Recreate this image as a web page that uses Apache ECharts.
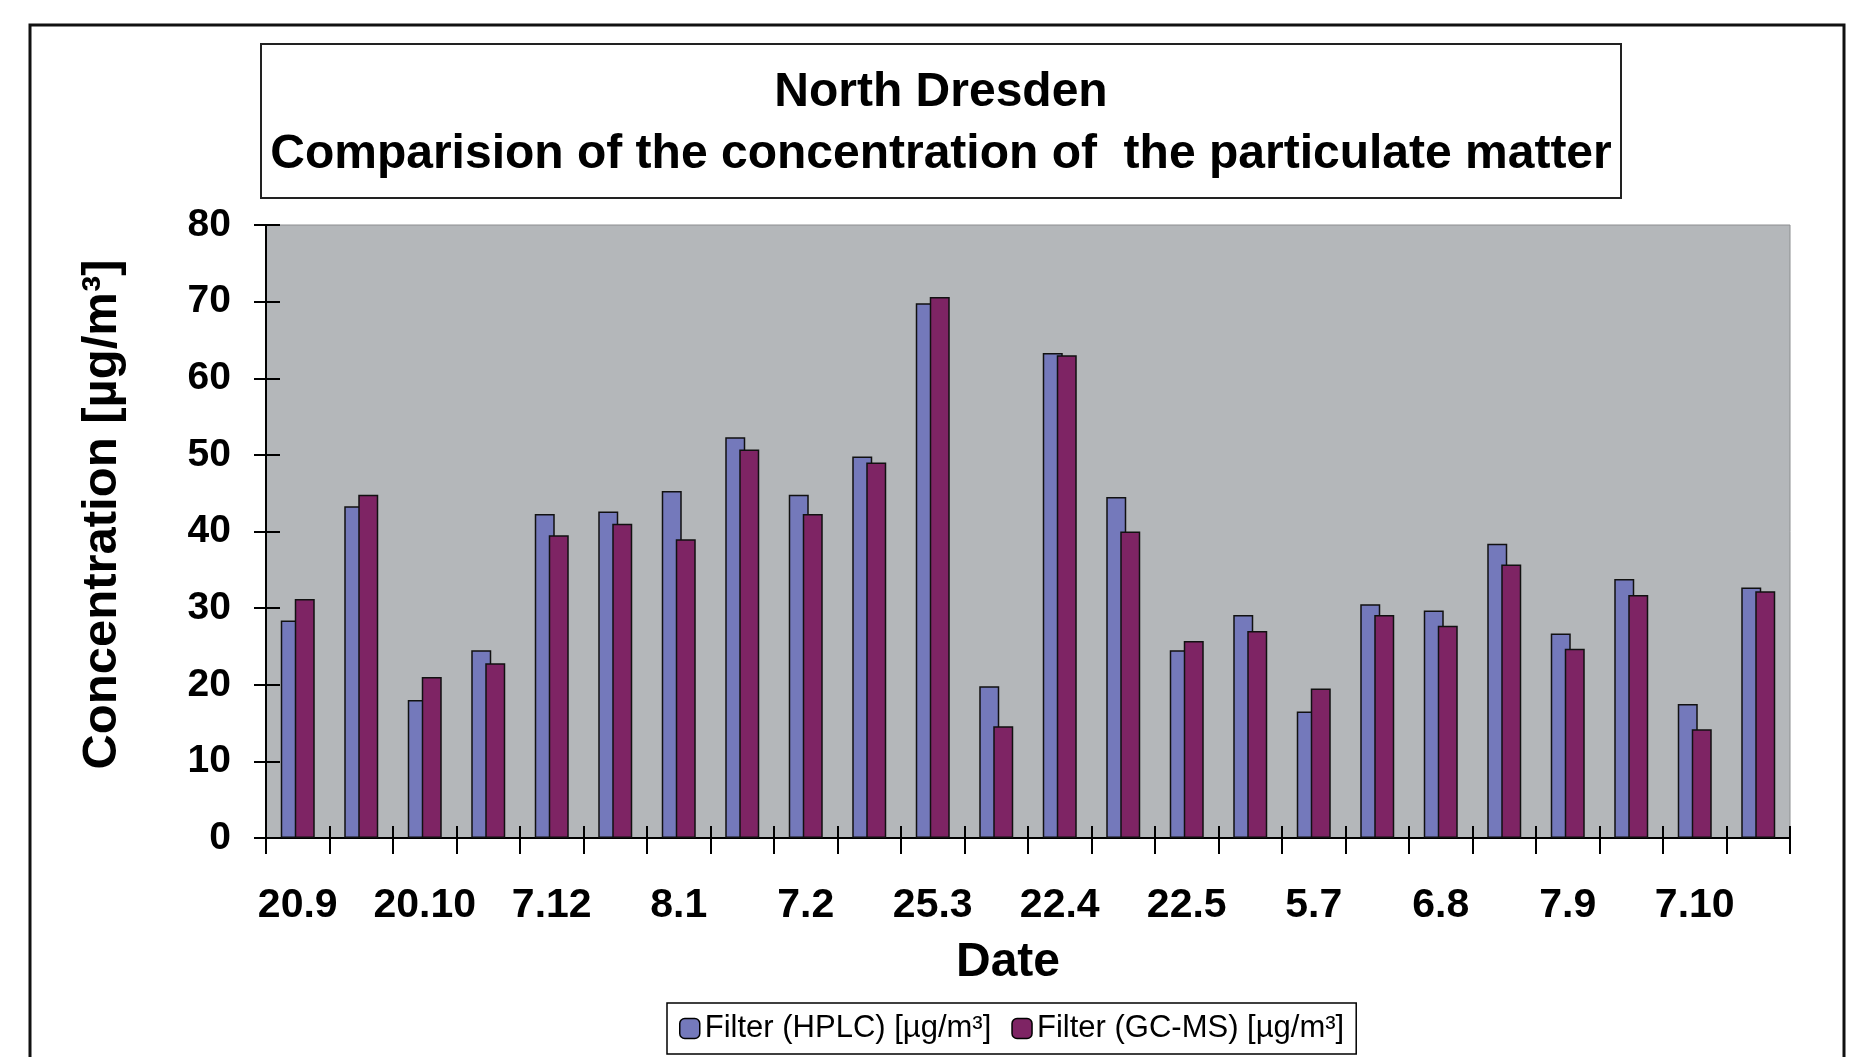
<!DOCTYPE html>
<html>
<head>
<meta charset="utf-8">
<script src="https://cdn.jsdelivr.net/npm/echarts@6/dist/echarts.min.js"></script>
<style>
html,body{margin:0;padding:0;background:#fff;}
#chart{width:1862px;height:1057px;}
</style>
</head>
<body>
<div id="chart"></div>
<script>
// ---- data ----
const titleLines = ['North Dresden', 'Comparision of the concentration of  the particulate matter'];
const categories = ['20.9','', '20.10','', '7.12','', '8.1','', '7.2','', '25.3','', '22.4','', '22.5','', '5.7','', '6.8','', '7.9','', '7.10',''];
const seriesNames = ['Filter (HPLC) [µg/m³]', 'Filter (GC-MS) [µg/m³]'];
const hplc = [28.4, 43.3, 18.0, 24.5, 42.3, 42.6, 45.3, 52.3, 44.8, 49.8, 69.8, 19.8, 63.3, 44.5, 24.5, 29.1, 16.5, 30.5, 29.7, 38.4, 26.7, 33.8, 17.5, 32.7];
const gcms = [31.2, 44.8, 21.0, 22.8, 39.5, 41.0, 39.0, 50.7, 42.3, 49.0, 70.6, 14.6, 63.0, 40.0, 25.7, 27.0, 19.5, 29.1, 27.7, 35.7, 24.7, 31.7, 14.2, 32.2];
const yMin = 0, yMax = 80, yStep = 10;
const xAxisTitle = 'Date';
const yAxisTitle = 'Concentration [µg/m³]';

const FONT = '"Liberation Sans", Arial, sans-serif';
const chart = echarts.init(document.getElementById('chart'), null, {renderer: 'canvas'});

const option = {
  backgroundColor: '#ffffff',
  animation: false,
  textStyle: {fontFamily: FONT, color: '#000'},
  graphic: [
    {type: 'rect', silent: true, z: 0, shape: {x: 30, y: 25, width: 1814, height: 1080},
     style: {fill: 'none', stroke: '#111', lineWidth: 3}},
    {type: 'rect', silent: true, z: 1, shape: {x: 261, y: 44, width: 1360, height: 154},
     style: {fill: '#fff', stroke: '#222', lineWidth: 2}},
    {type: 'text', silent: true, z: 2, x: 941, y: 93,
     style: {text: titleLines[0], fontSize: 48, fontWeight: 'bold', fontFamily: FONT, fill: '#000', align: 'center', verticalAlign: 'middle'}},
    {type: 'text', silent: true, z: 2, x: 941, y: 155,
     style: {text: titleLines[1], fontSize: 48, fontWeight: 'bold', fontFamily: FONT, fill: '#000', align: 'center', verticalAlign: 'middle'}}
  ],
  grid: {
    left: 266, right: 72, top: 225, bottom: 219,
    show: true, backgroundColor: '#b4b7ba', borderColor: '#8c8e90', borderWidth: 1,
    containLabel: false
  },
  legend: {
    left: 667, top: 1003,
    orient: 'horizontal',
    selectedMode: false,
    itemWidth: 20, itemHeight: 20, itemGap: 20,
    padding: [10, 12, 10, 12],
    borderColor: '#000', borderWidth: 1.5, backgroundColor: '#fff',
    textStyle: {fontSize: 31, fontFamily: FONT, color: '#000'},
    itemStyle: {borderColor: '#000', borderWidth: 1.5},
    data: seriesNames
  },
  xAxis: [
    {
      type: 'category', data: categories, position: 'bottom',
      axisLine: {show: true, onZero: false, lineStyle: {color: '#000', width: 2}},
      axisTick: {show: true, interval: 0, length: 16, lineStyle: {color: '#000', width: 2}},
      axisLabel: {interval: 0, margin: 47, fontSize: 41, fontWeight: 'bold', color: '#000', fontFamily: FONT},
      splitLine: {show: false},
      name: xAxisTitle, nameLocation: 'middle', nameGap: 101,
      nameTextStyle: {fontSize: 48, fontWeight: 'bold', color: '#000', fontFamily: FONT, padding: [0, 40, 0, 0]}
    },
    {
      type: 'category', data: categories, position: 'bottom',
      axisLine: {show: false, onZero: false},
      axisTick: {show: true, inside: true, interval: 0, length: 12, lineStyle: {color: '#000', width: 2}},
      axisLabel: {show: false},
      splitLine: {show: false}
    }
  ],
  yAxis: [
    {
      type: 'value', min: yMin, max: yMax, interval: yStep, position: 'left',
      axisLine: {show: true, lineStyle: {color: '#000', width: 2}},
      axisTick: {show: true, length: 12, lineStyle: {color: '#000', width: 2}},
      axisLabel: {margin: 35, fontSize: 39, fontWeight: 'bold', color: '#000', fontFamily: FONT},
      splitLine: {show: false},
      name: yAxisTitle, nameLocation: 'middle', nameGap: 139, nameRotate: 90,
      nameTextStyle: {fontSize: 49, fontWeight: 'bold', color: '#000', fontFamily: FONT, padding: [0, 0, 0, 34]}
    },
    {
      type: 'value', min: yMin, max: yMax, interval: yStep, position: 'left',
      axisLine: {show: false},
      axisTick: {show: true, inside: true, length: 14, lineStyle: {color: '#000', width: 2}},
      axisLabel: {show: false},
      splitLine: {show: false}
    }
  ],
  series: [
    {
      name: seriesNames[0], type: 'bar', xAxisIndex: 0, yAxisIndex: 0,
      data: hplc, barWidth: 20, barGap: '-30%',
      itemStyle: {color: '#7479bb', borderColor: '#111', borderWidth: 1.5}
    },
    {
      name: seriesNames[1], type: 'bar', xAxisIndex: 0, yAxisIndex: 0,
      data: gcms, barWidth: 20, barGap: '-30%',
      itemStyle: {color: '#7e2464', borderColor: '#111', borderWidth: 1.5}
    }
  ]
};
chart.setOption(option);
</script>
</body>
</html>
